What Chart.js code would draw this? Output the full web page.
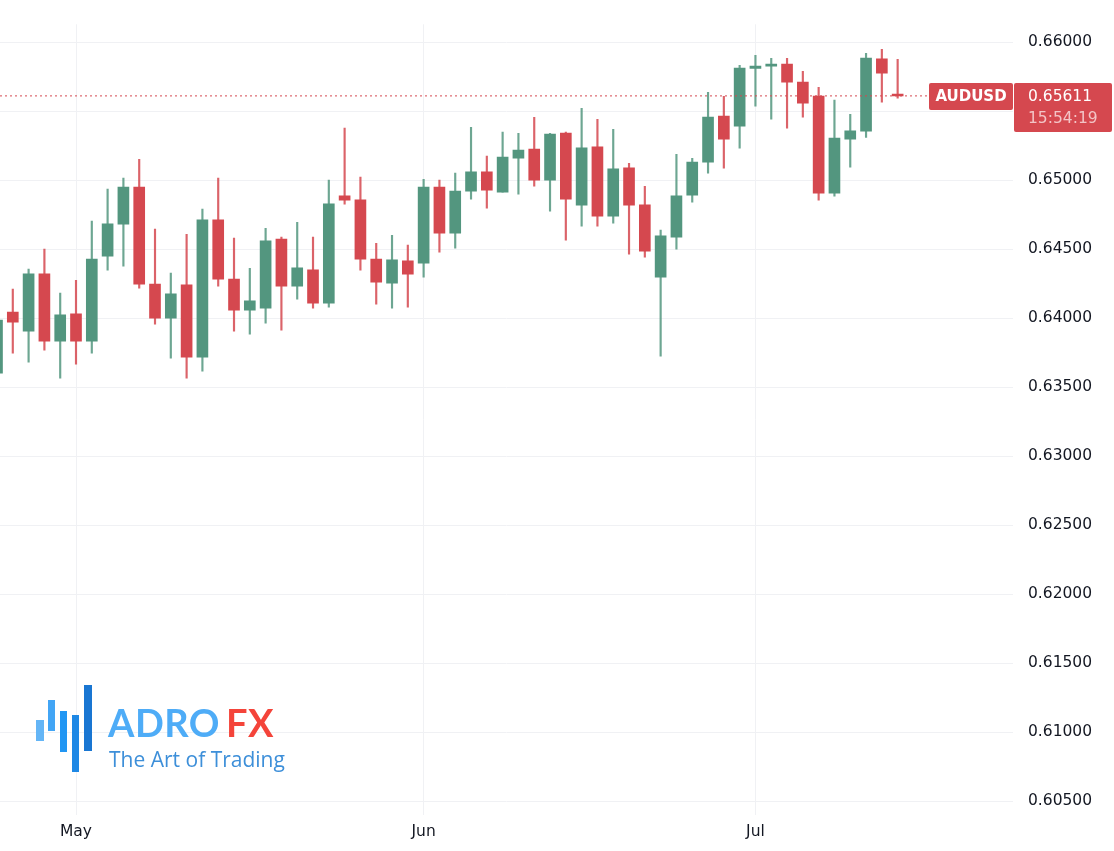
<!DOCTYPE html>
<html>
<head>
<meta charset="utf-8">
<script src="https://cdn.jsdelivr.net/npm/chart.js@4.4.1/dist/chart.umd.min.js"></script>
<style>
  html, body { margin: 0; padding: 0; background: #fff; }
  #wrap { position: relative; width: 1114px; height: 851px; }
  #logo { position: absolute; left: 0; top: 0; pointer-events: none; }
  .bar { position: absolute; }
  .brand { position: absolute; left: 108px; top: 699px; font-family: Lato, "Open Sans", sans-serif; font-weight: 700; font-size: 38px; letter-spacing: 0.5px; color: #4eacf7; white-space: nowrap; }
  .brand span { color: #f4443a; margin-left: 6px; }
  .tag { position: absolute; left: 109px; top: 745px; font-family: "Open Sans", sans-serif; font-size: 21px; color: #3d8fd9; white-space: nowrap; }
</style>
</head>
<body>
<div id="wrap">
  <canvas id="chart" width="1114" height="851"></canvas>
  <div id="logo">
    <div class="bar" style="left:36px;top:720px;width:8px;height:21px;background:#64b5f6"></div>
    <div class="bar" style="left:48px;top:700px;width:7px;height:31px;background:#42a5f5"></div>
    <div class="bar" style="left:60px;top:711px;width:7px;height:41px;background:#2196f3"></div>
    <div class="bar" style="left:72px;top:715px;width:7px;height:57px;background:#1e88e5"></div>
    <div class="bar" style="left:84px;top:685px;width:8px;height:66px;background:#1976d2"></div>
    <div class="brand">ADRO<span>FX</span></div>
    <div class="tag">The Art of Trading</div>
  </div>
</div>
<script>
// AUDUSD daily candles
const opens  = [0.63601,0.64043,0.63906,0.64319,0.63833,0.64029,0.63833,0.64449,0.64681,0.64949,
                0.64246,0.64000,0.64239,0.63717,0.64710,0.64282,0.64058,0.64072,0.64572,0.64232,
                0.64348,0.64109,0.64884,0.64855,0.64427,0.64253,0.64413,0.64398,0.64949,0.64616,
                0.64920,0.65058,0.64913,0.65159,0.65224,0.65000,0.65340,0.64819,0.65239,0.64739,
                0.65087,0.64819,0.64297,0.64587,0.64891,0.65130,0.65463,0.65391,0.65811,0.65826,
                0.65840,0.65710,0.65608,0.64906,0.65297,0.65355,0.65877,0.65623];
const closes = [0.63985,0.63971,0.64319,0.63833,0.64022,0.63833,0.64427,0.64681,0.64949,0.64246,
                0.64000,0.64174,0.63717,0.64710,0.64282,0.64058,0.64123,0.64558,0.64232,0.64362,
                0.64109,0.64826,0.64855,0.64427,0.64261,0.64420,0.64319,0.64949,0.64616,0.64920,
                0.65058,0.64927,0.65166,0.65217,0.65000,0.65333,0.64862,0.65232,0.64739,0.65080,
                0.64819,0.64485,0.64594,0.64884,0.65130,0.65456,0.65297,0.65811,0.65826,0.65840,
                0.65710,0.65558,0.64906,0.65304,0.65355,0.65884,0.65775,0.65611];
const highs  = [0.64094,0.64210,0.64355,0.64500,0.64181,0.64275,0.64703,0.64935,0.65015,0.65152,
                0.64645,0.64326,0.64608,0.64790,0.65015,0.64580,0.64362,0.64652,0.64587,0.64695,
                0.64587,0.65000,0.65377,0.65022,0.64543,0.64601,0.64529,0.65007,0.65000,0.65051,
                0.65384,0.65174,0.65348,0.65340,0.65456,0.65340,0.65348,0.65521,0.65442,0.65369,
                0.65123,0.64956,0.64638,0.65188,0.65159,0.65637,0.65608,0.65833,0.65905,0.65884,
                0.65884,0.65790,0.65674,0.65580,0.65478,0.65920,0.65949,0.65877];
const lows   = [0.63580,0.63746,0.63681,0.63768,0.63565,0.63667,0.63746,0.64348,0.64377,0.64217,
                0.63956,0.63710,0.63565,0.63616,0.64232,0.63906,0.63884,0.63963,0.63913,0.64138,
                0.64072,0.64080,0.64826,0.64348,0.64101,0.64072,0.64080,0.64297,0.64478,0.64507,
                0.64862,0.64797,0.64913,0.64898,0.64956,0.64775,0.64565,0.64666,0.64666,0.64688,
                0.64464,0.64442,0.63724,0.64500,0.64840,0.65051,0.65087,0.65232,0.65536,0.65442,
                0.65377,0.65456,0.64855,0.64884,0.65094,0.65311,0.65565,0.65594];

const monthLabels = ['May', 'Jun', 'Jul'];
const monthIndex = [5, 27, 48];
const priceTicks = [0.605,0.61,0.615,0.62,0.625,0.63,0.635,0.64,0.645,0.65,0.655,0.66];
const lastPrice = 0.65611;
const symbol = 'AUDUSD';
const countdown = '15:54:19';

const UP = '#53967f', DOWN = '#d5484f';
const colors = opens.map((o, i) => closes[i] >= o ? UP : DOWN);
const wickColors = colors.map(c => c === UP ? 'rgba(83,150,127,0.85)' : 'rgba(213,72,79,0.85)');

const FONT = 'DejaVu Sans, sans-serif';
const X_MIN = 0.19, X_MAX = 64.3;
const Y_MIN = 0.60399, Y_MAX = 0.6613;

// dotted last-price line + the two price tags on the right
const priceTag = {
  id: 'priceTag',
  afterDraw(chart) {
    const ctx = chart.ctx, area = chart.chartArea;
    const y = chart.scales.y.getPixelForValue(lastPrice);
    ctx.save();
    ctx.strokeStyle = '#d5484f';
    ctx.lineWidth = 1;
    ctx.setLineDash([2, 3]);
    ctx.beginPath();
    ctx.moveTo(area.left, y);
    ctx.lineTo(area.right, y);
    ctx.stroke();
    ctx.setLineDash([]);

    ctx.fillStyle = '#d5484f';
    ctx.beginPath();
    ctx.roundRect(929, y - 13, 84, 27, 2);
    ctx.fill();
    ctx.beginPath();
    ctx.roundRect(1014, y - 13, 98, 49, 2);
    ctx.fill();

    ctx.textBaseline = 'middle';
    ctx.font = 'bold 15px ' + FONT;
    ctx.fillStyle = '#ffffff';
    ctx.textAlign = 'center';
    ctx.fillText(symbol, 971, y + 1);
    ctx.textAlign = 'left';
    ctx.font = '15.5px ' + FONT;
    ctx.fillText(lastPrice.toFixed(5), 1028, y + 1);
    ctx.fillStyle = '#f3c4c6';
    ctx.fillText(countdown, 1028, y + 23);
    ctx.restore();
  }
};

const ctx = document.getElementById('chart').getContext('2d');
new Chart(ctx, {
  type: 'bar',
  data: {
    datasets: [
      {
        label: 'wick',
        data: highs.map((h, i) => ({ x: i, y: [lows[i], h] })),
        backgroundColor: wickColors,
        barThickness: 1.5,
        grouped: false,
        order: 2
      },
      {
        label: 'body',
        data: opens.map((o, i) => ({ x: i, y: [Math.min(o, closes[i]), Math.max(o, closes[i]) + 0.00002] })),
        backgroundColor: colors,
        barThickness: 11,
        grouped: false,
        order: 1
      }
    ]
  },
  options: {
    responsive: false,
    animation: false,
    layout: { padding: 0 },
    plugins: { legend: { display: false }, tooltip: { enabled: false } },
    scales: {
      x: {
        type: 'linear',
        offset: false,
        bounds: 'data',
        min: X_MIN,
        max: X_MAX,
        afterDataLimits: axis => { axis.min = X_MIN; axis.max = X_MAX; },
        afterBuildTicks: axis => { axis.ticks = monthIndex.map(v => ({ value: v })); },
        afterFit: axis => { axis.height = 36; },
        ticks: {
          autoSkip: false,
          maxRotation: 0,
          color: '#131722',
          font: { family: FONT, size: 15.5 },
          padding: 8,
          callback: (v) => monthLabels[monthIndex.indexOf(v)]
        },
        grid: { color: '#f0f1f4', drawTicks: false, offset: false },
        border: { display: false }
      },
      y: {
        position: 'right',
        bounds: 'data',
        min: Y_MIN,
        max: Y_MAX,
        afterDataLimits: axis => { axis.min = Y_MIN; axis.max = Y_MAX; },
        afterBuildTicks: axis => { axis.ticks = priceTicks.map(v => ({ value: v })); },
        afterFit: axis => { axis.width = 101; },
        ticks: {
          color: '#131722',
          font: { family: FONT, size: 15.5 },
          padding: 15,
          callback: v => v.toFixed(5)
        },
        grid: { color: '#f0f1f4', drawTicks: false },
        border: { display: false }
      }
    }
  },
  plugins: [priceTag]
});
</script>
</body>
</html>
